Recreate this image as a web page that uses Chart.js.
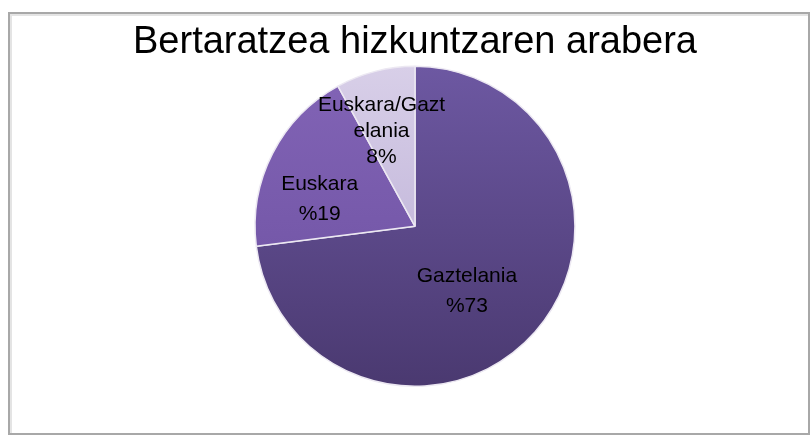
<!DOCTYPE html>
<html>
<head>
<title>Bertaratzea</title>
<script src="https://cdn.jsdelivr.net/npm/chart.js"></script>
<style>
	body { margin: 0; background: #fff; }
	#frame { position: absolute; left: 8px; top: 12px; width: 798px; height: 419px;
		border: 2px solid #a8a8a8; box-shadow: inset 2px 2px 0 #e4e4e4; }
	#wrap { position: absolute; left: 0; top: 0; width: 810px; height: 435px; }
</style>
</head>
<body>
<div id="frame"></div>
<div id="wrap"><canvas id="pieChart"></canvas></div>
<script>
	// datuak
	const categories = ['Gaztelania', 'Euskara', 'Euskara/Gaztelania'];
	const values = [73, 19, 8];
	const labelLines = [['Gaztelania', '%73'], ['Euskara', '%19'], ['Euskara/Gazt', 'elania', '8%']];

	// gradient colours per slice (top, bottom)
	const sliceColors = [['#6d58a2', '#4a3970'], ['#8264b6', '#6b4f9f'], ['#d8cfe8', '#b5a8d2']];
	// label placement: fraction of radius, angle shift (deg) from slice middle
	const labelRadius = [0.52, 0.62, 0.63];
	const labelShift = [10, -11, -5];

	function fill(ctx) {
		const chart = ctx.chart;
		const area = chart.chartArea;
		const c = sliceColors[ctx.dataIndex];
		if (!area) return c[0];
		const g = chart.ctx.createLinearGradient(0, area.top, 0, area.bottom);
		g.addColorStop(0, c[0]);
		g.addColorStop(1, c[1]);
		return g;
	}

	// labels inside the slices
	const sliceLabels = {
		id: 'sliceLabels',
		afterDatasetsDraw(chart) {
			const ctx = chart.ctx;
			const meta = chart.getDatasetMeta(0);
			ctx.save();
			ctx.font = '21px "Liberation Sans", Arial, sans-serif';
			ctx.fillStyle = '#000';
			ctx.textAlign = 'center';
			ctx.textBaseline = 'middle';
			meta.data.forEach((arc, i) => {
				const p = arc.getProps(['x', 'y', 'startAngle', 'endAngle', 'outerRadius'], true);
				const mid = (p.startAngle + p.endAngle) / 2 + labelShift[i] * Math.PI / 180;
				const r = p.outerRadius * labelRadius[i];
				const x = p.x + Math.cos(mid) * r;
				const y = p.y + Math.sin(mid) * r;
				const lines = labelLines[i];
				const lh = lines.length > 2 ? 26 : 30;
				lines.forEach((t, j) => {
					ctx.fillText(t, x, y + (j - (lines.length - 1) / 2) * lh);
				});
			});
			ctx.restore();
		}
	};

	var chart = new Chart(document.getElementById('pieChart').getContext('2d'), {
		type: 'pie',
		data: {
			labels: categories,
			datasets: [{
				data: values,
				backgroundColor: fill,
				borderColor: '#ece8f2',
				borderWidth: 1.5
			}]
		},
		options: {
			responsive: true,
			maintainAspectRatio: false,
			animation: false,
			layout: { padding: { top: 20, bottom: 48, left: 20, right: 0 } },
			plugins: {
				legend: { display: false },
				tooltip: { enabled: false },
				title: {
					display: true,
					text: 'Bertaratzea hizkuntzaren arabera',
					color: '#000',
					font: { family: '"Liberation Sans", Arial, sans-serif', size: 38, weight: 'normal' },
					padding: { top: 0, bottom: 0 }
				}
			}
		},
		plugins: [sliceLabels]
	});
</script>
</body>
</html>
